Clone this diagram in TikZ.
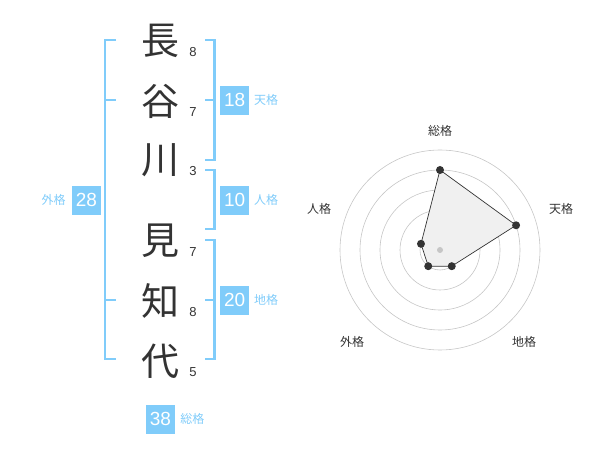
\documentclass[tikz,border=0pt]{standalone}
\usepackage{fontspec}
\setmainfont{Liberation Sans}
\newfontfamily\jpfont{Noto Sans CJK JP}
\usetikzlibrary{positioning}
\definecolor{kakublue}{HTML}{80CCFA}
\definecolor{inkgray}{HTML}{333333}

\begin{document}
\begin{tikzpicture}[x=1pt,y=-1pt,
    kanji/.style={inner sep=0pt,text=inkgray,font=\jpfont\fontsize{38}{38}\selectfont},
    strokes/.style={inner sep=0pt,text=inkgray,font=\fontsize{13}{13}\selectfont},
    bracket/.style={draw=kakublue,line width=2.5pt,line join=miter},
    kakubox/.style={fill=kakublue,text=white,minimum size=29pt,inner sep=0pt,font=\fontsize{19}{19}\selectfont},
    kakulabel/.style={text=kakublue,inner sep=0pt,font=\jpfont\fontsize{12}{12}\selectfont},
    axislabel/.style={text=inkgray,inner sep=0pt,font=\jpfont\fontsize{12}{12}\selectfont},
    ring/.style={draw=gray!45,line width=0.6pt},
    dot/.style={circle,fill=inkgray,inner sep=0pt,minimum size=8pt}]
        \useasboundingbox (0,0) rectangle (600,470);
        % Name and strokes
        \foreach \ch/\y/\n [count=\i] in {長/41/8,谷/101/7,川/160/3,見/241/7,知/301/8,代/361/5} {
            \node[kanji] (k\i) at (160,\y) {\ch};
            \node[strokes] (s\i) at (193,\y+11) {\n};
        }
        % Brackets
        \draw[bracket] (116,40) -- (105,40) -- (105,359) -- (116,359);
        \draw[bracket] (105,100) -- (116,100);
        \draw[bracket] (105,300) -- (116,300);
        \draw[bracket] (205,40) -- (214.5,40) -- (214.5,160) -- (205,160);
        \draw[bracket] (205,100) -- (214.5,100);
        \draw[bracket] (205,170) -- (214.5,170) -- (214.5,229) -- (205,229);
        \draw[bracket] (205,240) -- (214.5,240) -- (214.5,359) -- (205,359);
        \draw[bracket] (205,300) -- (214.5,300);
        % Totals
        \node[kakubox] (ten) at (234.7,100.3) {18};
        \node[kakulabel,right=4.5pt of ten] (tenl) {天格};
        \node[kakubox] (jin) at (234.7,200.3) {10};
        \node[kakulabel,right=4.5pt of jin] (jinl) {人格};
        \node[kakubox] (chi) at (234.7,300.3) {20};
        \node[kakulabel,right=4.5pt of chi] (chil) {地格};
        \node[kakubox] (gai) at (86.5,200.3) {28};
        \node[kakulabel,left=6pt of gai] (gail) {外格};
        \node[kakubox] (sou) at (160.5,419) {38};
        \node[kakulabel,right=5pt of sou] (soul) {総格};
        % Radar
        \coordinate (C) at (440,250);
        \foreach \r in {20,40,60,80,100} \draw[ring] (C) circle (\r pt);
        \coordinate (psou) at ([shift={(90:80pt)}]C);
        \coordinate (pten) at ([shift={(18:80pt)}]C);
        \coordinate (pchi) at ([shift={(-54:20pt)}]C);
        \coordinate (pgai) at ([shift={(-126:20pt)}]C);
        \coordinate (pjin) at ([shift={(162:20pt)}]C);
        \filldraw[fill=gray!12,draw=inkgray,line width=0.7pt] (psou) -- (pten) -- (pchi) -- (pgai) -- (pjin) -- cycle;
        \fill[gray!45] (C) circle (3pt);
        \foreach \p in {psou,pten,pchi,pgai,pjin} \node[dot] (d\p) at (\p) {};
        % Axis labels
        \node[axislabel] (asou) at (440,131) {総格};
        \node[axislabel] (aten) at (561,209) {天格};
        \node[axislabel] (achi) at (524,342) {地格};
        \node[axislabel] (agai) at (352,342) {外格};
        \node[axislabel] (ajin) at (319,209) {人格};
    \end{tikzpicture}
\end{document}
